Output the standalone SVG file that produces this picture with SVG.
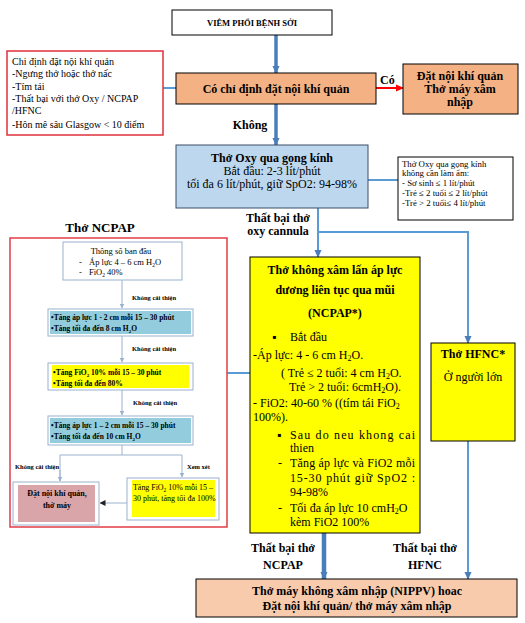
<svg xmlns="http://www.w3.org/2000/svg" width="525" height="623" viewBox="0 0 525 623" font-family="'Liberation Serif','Times New Roman',serif">
<style>
text{font-family:"Liberation Serif","Times New Roman",serif;fill:#000}
.b{font-weight:bold}
.c{text-anchor:middle}
.thick{stroke:#4A7EBB;stroke-width:3.5;fill:none}
.thin{stroke:#5B9BD5;stroke-width:2;fill:none}
.gray{stroke:#9BB2CF;stroke-width:1;fill:none}
.box{stroke:#000;stroke-width:1}
.ibox{fill:#fff;stroke:#9BB2CF;stroke-width:1}
.f12{font-size:12px}
.f10{font-size:10px}
.f8{font-size:8.8px}
.s7{font-size:7.5px;font-weight:bold}
.lab{font-size:6.5px;font-weight:bold}
</style>
<defs>
<marker id="ab" markerUnits="userSpaceOnUse" markerWidth="8" markerHeight="8" refX="7" refY="4" orient="auto"><path d="M0,0.5 L8,4 L0,7.5 z" fill="#4A7EBB"/></marker>
<marker id="ar" markerUnits="userSpaceOnUse" markerWidth="8" markerHeight="8" refX="7" refY="4" orient="auto"><path d="M0,0.5 L8,4 L0,7.5 z" fill="#FF0000"/></marker>
<marker id="ag" markerUnits="userSpaceOnUse" markerWidth="5" markerHeight="5" refX="4.5" refY="2.5" orient="auto"><path d="M0,0 L5,2.5 L0,5 z" fill="#9BB2CF"/></marker>
<marker id="ak" markerUnits="userSpaceOnUse" markerWidth="6" markerHeight="6" refX="5.5" refY="3" orient="auto"><path d="M0,0 L6,3 L0,6 z" fill="#222"/></marker>
</defs>

<g id="connectors">
<line class="thick" x1="276" y1="35" x2="276" y2="73" marker-end="url(#ab)"/>
<line class="thin" x1="163" y1="88" x2="176" y2="88"/>
<line x1="376" y1="88" x2="403" y2="88" stroke="#FF0000" stroke-width="2" marker-end="url(#ar)"/>
<line class="thick" x1="276" y1="104" x2="276" y2="145" marker-end="url(#ab)"/>
<line class="thin" x1="368" y1="180" x2="398" y2="180"/>
<line class="thin" x1="318" y1="208" x2="318" y2="257" marker-end="url(#ab)"/>
<polyline class="thin" points="318,232 468,232 468,343" marker-end="url(#ab)"/>
<line class="thin" x1="227" y1="373" x2="250" y2="373"/>
<line x1="324" y1="533" x2="324" y2="579" stroke="#4A7EBB" stroke-width="4.5" marker-end="url(#ab)"/>
<line class="thin" x1="468" y1="441" x2="468" y2="579" marker-end="url(#ab)"/>
<text class="b c f12" x="250" y="129">Không</text>
<text class="b f12" x="380" y="84">Có</text>
<text class="b c f12" x="278" y="222">Thất bại thở</text>
<text class="b c f12" x="278" y="235">oxy cannula</text>
<text class="b c f12" x="283" y="552">Thất bại thở</text>
<text class="b c f12" x="283" y="569">NCPAP</text>
<text class="b c f12" x="425" y="552">Thất bại thở</text>
<text class="b c f12" x="425" y="569">HFNC</text>
</g>

<g id="n-start">
<rect class="box" x="172" y="10" width="160" height="25" fill="#fff"/>
<text class="b c" font-size="8.5" x="252" y="26">VIÊM PHỔI BỆNH SỞI</text>
</g>

<g id="n-criteria">
<rect x="7" y="51" width="156" height="84" fill="#fff" stroke="#E0303A" stroke-width="1.5"/>
<text class="f10" x="12" y="65">Chi định đặt nội khí quản</text>
<text class="f10" x="12" y="77">-Ngưng thở hoặc thở nấc</text>
<text class="f10" x="12" y="90">-Tím tái</text>
<text class="f10" x="12" y="102">-Thất bại với thở Oxy / NCPAP</text>
<text class="f10" x="12" y="114">/HFNC</text>
<text class="f10" x="12" y="128">-Hôn mê sâu Glasgow &lt; 10 điểm</text>
</g>

<g id="n-decision">
<rect class="box" x="176" y="73" width="200" height="31" fill="#F4B183"/>
<text class="b c f12" x="276" y="93">Có chỉ định đặt nội khí quản</text>
</g>

<g id="n-intubate">
<rect class="box" x="403" y="64" width="115" height="50" fill="#F4B183"/>
<text class="b c f12" x="460" y="80">Đặt nội khí quản</text>
<text class="b c f12" x="460" y="93">Thở máy xâm</text>
<text class="b c f12" x="460" y="106">nhập</text>
</g>

<g id="n-oxy">
<rect x="176" y="145" width="192" height="63" fill="#BDD7EE" stroke="#3A4F66" stroke-width="1"/>
<text class="b c f12" x="272" y="162">Thở Oxy qua gọng kính</text>
<text class="c f12" x="272" y="175">Bắt đầu: 2-3 lít/phút</text>
<text class="c f12" x="272" y="188">tối đa 6 lít/phút, giữ SpO2: 94-98%</text>
</g>

<g id="n-oxynote">
<rect class="box" x="398" y="157" width="115" height="63" fill="#fff"/>
<text class="f8" x="402" y="167">Thở Oxy qua gọng kính</text>
<text class="f8" x="402" y="176">không cần làm ẩm:</text>
<text class="f8" x="402" y="186">- Sơ sinh ≤ 1 lít/phút</text>
<text class="f8" x="402" y="196">-Trẻ ≤ 2 tuổi ≤ 2 lít/phút</text>
<text class="f8" x="402" y="206">-Trẻ &gt; 2 tuổi≤ 4 lít/phút</text>
</g>

<g id="n-ncpap-panel">
<text class="b c" font-size="13" x="100" y="232">Thở NCPAP</text>
<rect x="10" y="238" width="217" height="289" fill="#fff" stroke="#E23B45" stroke-width="1.5"/>
<g id="p-init">
<rect class="ibox" x="63" y="242" width="119" height="38"/>
<text class="c" font-size="8.5" x="121" y="254">Thông số ban đầu</text>
<text font-size="8.5" x="79" y="265">-</text>
<text font-size="8.5" x="89" y="265">Áp lực 4 – 6 cm H<tspan font-size="5.5" dy="2">2</tspan><tspan dy="-2">O</tspan></text>
<text font-size="8.5" x="79" y="275">-</text>
<text font-size="8.5" x="89" y="275">FiO<tspan font-size="5.5" dy="2">2</tspan><tspan dy="-2"> 40%</tspan></text>
</g>
<g id="p-step1">
<rect class="ibox" x="48" y="309" width="145" height="27"/>
<rect x="50" y="311" width="141" height="23" fill="#93CDDD"/>
<text class="s7" x="51" y="320">•Tăng áp lực 1 - 2 cm mỗi 15 – 30 phút</text>
<text class="s7" x="51" y="331">•Tăng tối đa đến 8 cm H<tspan font-size="5" dy="1.5">2</tspan><tspan dy="-1.5">O</tspan></text>
</g>
<g id="p-step2">
<rect class="ibox" x="48" y="363" width="145" height="27"/>
<rect x="52" y="365" width="137" height="23" fill="#FFFF00"/>
<text class="s7" x="53" y="375">•Tăng FiO<tspan font-size="5" dy="1.5">2</tspan><tspan dy="-1.5"> 10% mỗi 15 – 30 phút</tspan></text>
<text class="s7" x="53" y="386">•Tăng tối đa đến 80%</text>
</g>
<g id="p-step3">
<rect class="ibox" x="48" y="416" width="145" height="29"/>
<rect x="50" y="418" width="141" height="25" fill="#93CDDD"/>
<text class="s7" x="51" y="428">•Tăng áp lực 1 – 2 cm mỗi 15 – 30 phút</text>
<text class="s7" x="51" y="439">•Tăng tối đa đến 10 cm H<tspan font-size="5" dy="1.5">2</tspan><tspan dy="-1.5">O</tspan></text>
</g>
<g id="p-intubate">
<rect class="ibox" x="13" y="482" width="86" height="43"/>
<rect x="18" y="485" width="77" height="37" fill="#D9A5A8"/>
<text class="b c" font-size="8" x="57" y="496">Đặt nội khí quản,</text>
<text class="b c" font-size="8" x="57" y="508">thở máy</text>
</g>
<g id="p-fio2">
<rect class="ibox" x="127" y="478" width="92" height="42"/>
<rect x="132" y="480" width="83" height="37" fill="#FFFF00"/>
<text font-size="8" x="133" y="490" textLength="80">Tăng FiO<tspan font-size="5.5" dy="2">2</tspan><tspan dy="-2"> 10%  mỗi 15 –</tspan></text>
<text font-size="8" x="133" y="501">30 phút, tăng tối đa 100%</text>
</g>
<g id="p-connectors">
<line class="gray" x1="122" y1="280" x2="122" y2="308" marker-end="url(#ag)"/>
<text class="lab" x="132" y="300">Không cải thiện</text>
<line class="gray" x1="122" y1="336" x2="122" y2="362" marker-end="url(#ag)"/>
<text class="lab" x="132" y="351">Không cải thiện</text>
<line class="gray" x1="122" y1="390" x2="122" y2="415" marker-end="url(#ag)"/>
<text class="lab" x="133" y="405">Không cải thiện</text>
<line class="gray" x1="122" y1="445" x2="122" y2="455"/>
<polyline class="gray" points="60,481 60,455 182,455 182,477" marker-end="url(#ag)"/>
<line class="gray" x1="60" y1="470" x2="60" y2="481" marker-end="url(#ag)"/>
<text class="lab" x="15" y="469">Không cải thiện</text>
<text class="lab" x="187" y="469">Xem xét</text>
<line x1="127" y1="503" x2="100" y2="503" stroke="#9BB2CF" stroke-width="1" marker-end="url(#ak)"/>
</g>
</g>

<g id="n-ncpap">
<rect class="box" x="250" y="257" width="170" height="276" fill="#FFFF00"/>
<text class="b c f12" x="335" y="274">Thở không xâm lấn áp lực</text>
<text class="b c f12" x="335" y="294">dương liên tục qua mũi</text>
<text class="b c f12" x="335" y="317">(NCPAP*)</text>
<text class="f12" x="272" y="341">▪</text>
<text class="f12" x="290" y="341">Bắt đầu</text>
<text class="f12" x="253" y="359">-Áp lực: 4 - 6 cm H<tspan font-size="8" dy="2">2</tspan><tspan dy="-2">O.</tspan></text>
<text class="f12" x="281" y="377">( Trẻ ≤ 2 tuổi: 4 cm H<tspan font-size="8" dy="2">2</tspan><tspan dy="-2">O.</tspan></text>
<text class="f12" x="289" y="391">Trẻ &gt; 2 tuổi: 6cmH<tspan font-size="8" dy="2">2</tspan><tspan dy="-2">O).</tspan></text>
<text class="f12" x="253" y="407">- FiO2: 40-60 % ((tím tái FiO<tspan font-size="8" dy="2">2</tspan></text>
<text class="f12" x="253" y="421">100%).</text>
<text class="f12" x="277" y="439">▪</text>
<text class="f12" x="290" y="439" textLength="125">Sau do neu khong cai</text>
<text class="f12" x="290" y="452">thien</text>
<text class="f12" x="278" y="467">-</text>
<text class="f12" x="290" y="467" textLength="125">Tăng áp lực và FiO2 mỗi</text>
<text class="f12" x="290" y="482" textLength="125">15-30 phút giữ SpO2 :</text>
<text class="f12" x="290" y="496">94-98%</text>
<text class="f12" x="278" y="512">-</text>
<text class="f12" x="290" y="512">Tối đa áp lực 10 cmH<tspan font-size="8" dy="2">2</tspan><tspan dy="-2">O</tspan></text>
<text class="f12" x="290" y="526">kèm FiO2 100%</text>
</g>

<g id="n-hfnc">
<rect class="box" x="431" y="343" width="84" height="98" fill="#FFFF00"/>
<text class="b c f12" x="473" y="358">Thở HFNC*</text>
<text class="c f12" x="473" y="381">Ở người lớn</text>
</g>

<g id="n-final">
<rect class="box" x="196" y="579" width="321" height="38" fill="#F8CBAD"/>
<text class="b c f12" x="357" y="595">Thở máy không xâm nhập (NIPPV) hoac</text>
<text class="b c f12" x="357" y="610">Đặt nội khí quản/ thở máy xâm nhập</text>
</g>
</svg>
